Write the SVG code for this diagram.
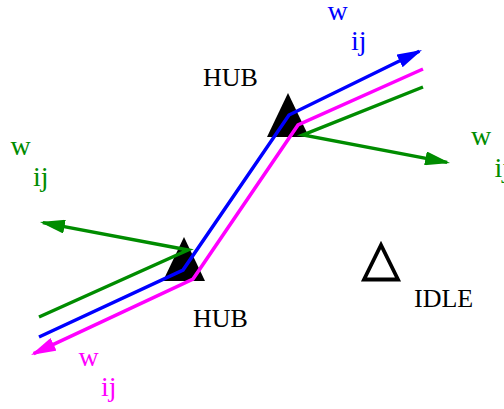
<svg xmlns="http://www.w3.org/2000/svg" width="504" height="409" viewBox="0 0 504 409">
<style>
text{font-family:"Liberation Serif","Times New Roman",serif;font-size:26px}
.lbl{font-size:28px}
.line{fill:none;stroke-width:3.5;stroke-linejoin:miter;stroke-linecap:butt}
.blue{stroke:#0000ff}.mag{stroke:#ff00ff}.green{stroke:#008c00}
.tb{fill:#0000ff}.tm{fill:#ff00ff}.tg{fill:#008c00}.tk{fill:#000}
</style>
<defs>
<marker id="ab" viewBox="0 0 25 14" refX="22" refY="7" markerWidth="25" markerHeight="14" markerUnits="userSpaceOnUse" orient="auto"><path d="M0,0 L25,7 L0,14 Z" fill="#0000ff"/></marker>
<marker id="am" viewBox="0 0 25 14" refX="22" refY="7" markerWidth="25" markerHeight="14" markerUnits="userSpaceOnUse" orient="auto"><path d="M0,0 L25,7 L0,14 Z" fill="#ff00ff"/></marker>
<marker id="ag" viewBox="0 0 25 14" refX="22" refY="7" markerWidth="25" markerHeight="14" markerUnits="userSpaceOnUse" orient="auto"><path d="M0,0 L25,7 L0,14 Z" fill="#008c00"/></marker>
</defs>
<g id="hub-top">
<polygon points="288,93 267,137 309,137" fill="#000"/>
<text x="203" y="86" class="tk">HUB</text>
</g>
<g id="hub-bottom">
<polygon points="184,237 163,281 205,281" fill="#000"/>
<text x="193" y="327" class="tk">HUB</text>
</g>
<g id="idle">
<polygon points="381,245 364,279.5 398,279.5" fill="none" stroke="#000" stroke-width="3.8"/>
<text x="414" y="307" class="tk">IDLE</text>
</g>
<g id="connectors">
<path class="line green" d="M423,87 L303,135 L447.1,162.4" marker-end="url(#ag)"/>
<path class="line green" d="M39,317 L188,250 L42.9,222.6" marker-end="url(#ag)"/>
<path class="line blue" d="M39,337 L183,270 L289,115 L419.3,51.3" marker-end="url(#ab)"/>
<path class="line mag" d="M423,69 L298,125 L193,279 L33.7,353.7" marker-end="url(#am)"/>
</g>
<g id="labels">
<text x="327.5" y="20" class="lbl tb">w</text>
<text x="351" y="50" class="lbl tb">ij</text>
<text x="10.5" y="155" class="lbl tg">w</text>
<text x="33" y="186" class="lbl tg">ij</text>
<text x="471" y="145" class="lbl tg">w</text>
<text x="494.5" y="177" class="lbl tg">ij</text>
<text x="78.5" y="366" class="lbl tm">w</text>
<text x="101" y="396" class="lbl tm">ij</text>
</g>
</svg>
